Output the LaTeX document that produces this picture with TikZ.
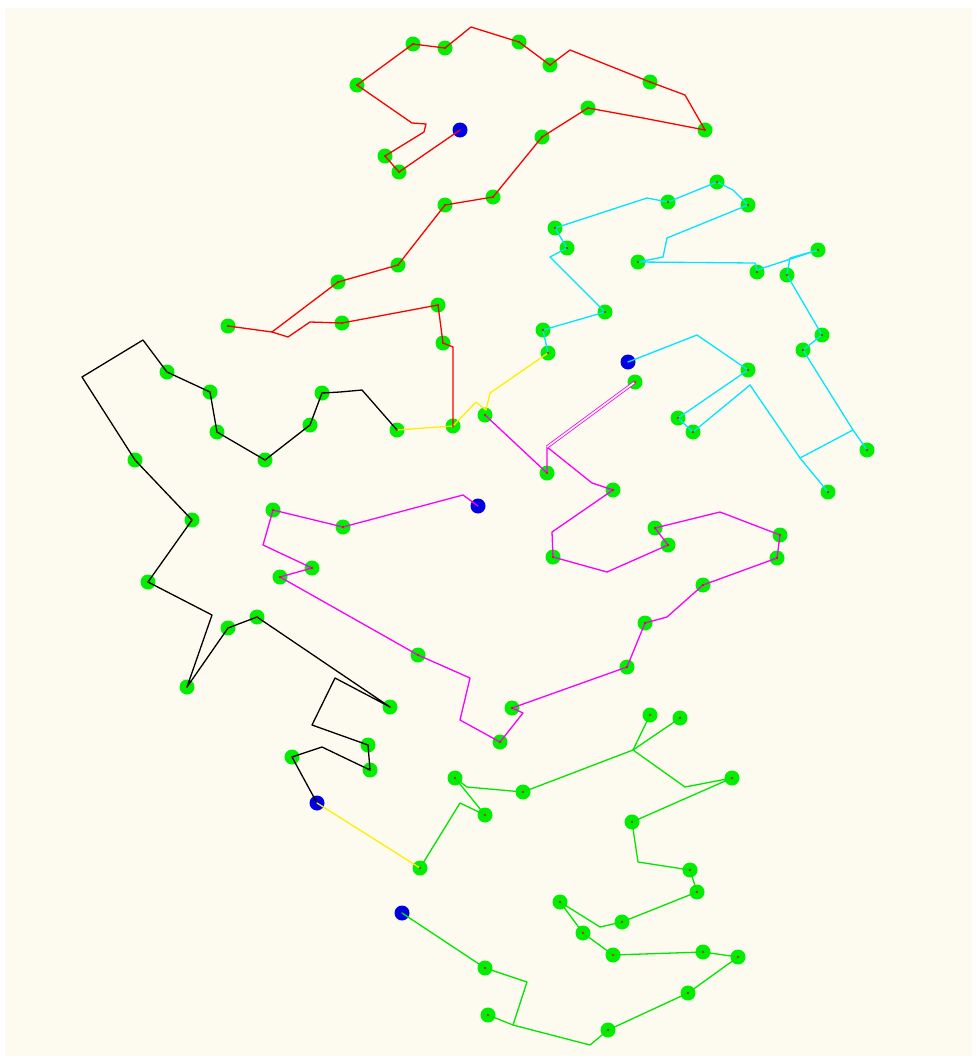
\documentclass[tikz,border=0pt]{standalone}
\usetikzlibrary{arrows.meta}
\definecolor{bgcream}{RGB}{253,251,240}
\definecolor{stopgreen}{RGB}{0,238,0}
\definecolor{depotblue}{RGB}{0,0,225}
\definecolor{routered}{RGB}{250,0,0}
\definecolor{routecyan}{RGB}{0,230,255}
\definecolor{routemagenta}{RGB}{250,0,250}
\definecolor{routeyellow}{RGB}{255,238,0}
\definecolor{routegreen}{RGB}{0,230,0}
\tikzset{
  stop/.style={circle, fill=stopgreen, inner sep=0pt, minimum size=15pt},
  depot/.style={circle, fill=depotblue, inner sep=0pt, minimum size=15pt},
  stopmark/.style={circle, fill=routered, inner sep=0pt, minimum size=2.2pt},
  route/.style={line width=1.3pt, line join=round, line cap=round},
}

\begin{document}
\begin{tikzpicture}[x=1pt, y=-1pt]

  \useasboundingbox (0,0) rectangle (977,1061);
  \fill[white] (0,0) rectangle (977,1061);
  \fill[bgcream] (5,8) rectangle (972,1056);

  %% customers
  \foreach \p [count=\i] in {
    (399,172), (385,156), (357,85), (413,44), (445,48), (519,42), (550,65),
    (650,82), (705,130), (588,108), (542,137), (493,197), (445,205),
    (398,265), (338,282), (228,326), (342,323), (438,305), (443,343),
    (453,426),
    (397,430), (322,393), (310,425), (265,460), (217,432), (210,392),
    (167,372), (135,460), (192,520), (148,582), (187,687), (228,628),
    (257,617), (390,707), (368,745), (370,770), (292,757),
    (548,353), (543,330), (605,312), (567,248), (555,228), (668,202),
    (717,182), (748,205), (638,262), (757,272), (818,250), (787,275),
    (822,335), (803,350), (867,450), (828,492), (748,370), (678,418),
    (693,432),
    (485,415), (547,473), (635,382), (613,490), (553,557), (668,545),
    (655,528), (780,535), (777,558), (703,585), (645,623), (627,667),
    (512,708), (500,742), (418,655), (280,577), (312,568), (273,510),
    (343,527),
    (420,868), (485,815), (455,778), (523,792), (650,715), (680,718),
    (732,778), (632,822), (690,870), (697,892), (622,922), (560,902),
    (583,933), (613,955), (703,952), (738,957), (688,993), (608,1030),
    (488,1015), (485,968)}
    \node[stop] (c\i) at \p {};

  %% depots
  \node[depot] (d1) at (460,130) {};
  \node[depot] (d2) at (628,362) {};
  \node[depot] (d3) at (478,506) {};
  \node[depot] (d4) at (317,803) {};
  \node[depot] (d5) at (402,913) {};

  %% red tour
  \draw[route, routered] (d1.center) -- (399,172) -- (385,156) -- (424,132)
    -- (426,124) -- (412,123) -- (357,85) -- (413,44) -- (445,48)
    -- (471,27) -- (519,42) -- (550,65) -- (570,50) -- (650,82)
    -- (685,95) -- (705,130) -- (643,118) -- (588,108) -- (542,137)
    -- (493,197) -- (445,205) -- (398,265) -- (338,282) -- (272,332)
    -- (228,326);
  \draw[route, routered] (272,332) -- (288,337) -- (310,322) -- (342,323)
    -- (438,305) -- (443,343) -- (453,347) -- (453,426);

  %% black tour
  \draw[route, black] (397,430) -- (362,390) -- (340,392) -- (322,393)
    -- (310,425) -- (265,460) -- (217,432) -- (210,392) -- (167,372)
    -- (143,340) -- (82,377) -- (135,460) -- (192,520) -- (148,582)
    -- (212,615) -- (187,687) -- (228,628) -- (257,617) -- (390,707)
    -- (335,678) -- (312,725) -- (368,745) -- (370,770) -- (322,747)
    -- (292,757) -- (d4.center);

  %% yellow links
  \draw[route, routeyellow] (397,430) -- (453,426) -- (476,402)
    -- (486,410) -- (490,393) -- (548,353);
  \draw[route, routeyellow] (d4.center) -- (420,868);

  %% cyan tour
  \draw[route, routecyan] (d2.center) -- (697,335) -- (748,370) -- (678,418)
    -- (693,432) -- (750,385) -- (800,458) -- (828,492);
  \draw[route, routecyan] (800,458) -- (853,430) -- (867,450);
  \draw[route, routecyan] (853,430) -- (803,350) -- (822,335) -- (787,275)
    -- (790,258) -- (818,250) -- (757,270) -- (755,263) -- (638,262)
    -- (663,257) -- (667,238) -- (748,205) -- (733,190) -- (717,182)
    -- (668,202) -- (647,198) -- (555,228) -- (567,248) -- (550,257)
    -- (605,312) -- (543,330) -- (548,353);

  %% magenta tour
  \draw[route, routemagenta] (d3.center) -- (463,495) -- (343,527)
    -- (273,510) -- (263,545) -- (312,568) -- (280,577) -- (418,655)
    -- (470,678) -- (460,720) -- (500,742) -- (523,713) -- (512,708)
    -- (627,667) -- (645,623) -- (667,617) -- (703,585) -- (777,558)
    -- (780,535) -- (720,512) -- (655,528) -- (668,545) -- (607,572)
    -- (553,557) -- (552,532) -- (613,490) -- (592,483) -- (547,447)
    -- (547,473) -- (485,415);
  \draw[routemagenta, double=bgcream, double distance=1.6pt, line width=0.8pt]
    (547,447) -- (635,382);

  %% green tour
  \draw[route, routegreen] (420,868) -- (460,803) -- (485,815) -- (455,778)
    -- (467,787) -- (523,792) -- (633,750) -- (650,715);
  \draw[route, routegreen] (633,750) -- (680,718);
  \draw[route, routegreen] (633,750) -- (685,787) -- (732,778) -- (632,822)
    -- (638,862) -- (690,870) -- (697,892) -- (622,922) -- (600,927)
    -- (560,902) -- (583,933) -- (613,955) -- (703,952) -- (738,957)
    -- (688,993) -- (608,1030) -- (590,1045) -- (513,1025) -- (488,1015);
  \draw[route, routegreen] (513,1025) -- (527,982) -- (485,968)
    -- (d5.center);

  %% centre marks
  \foreach \i in {1,...,95}
    \node[stopmark] at (c\i) {};

\end{tikzpicture}
\end{document}
